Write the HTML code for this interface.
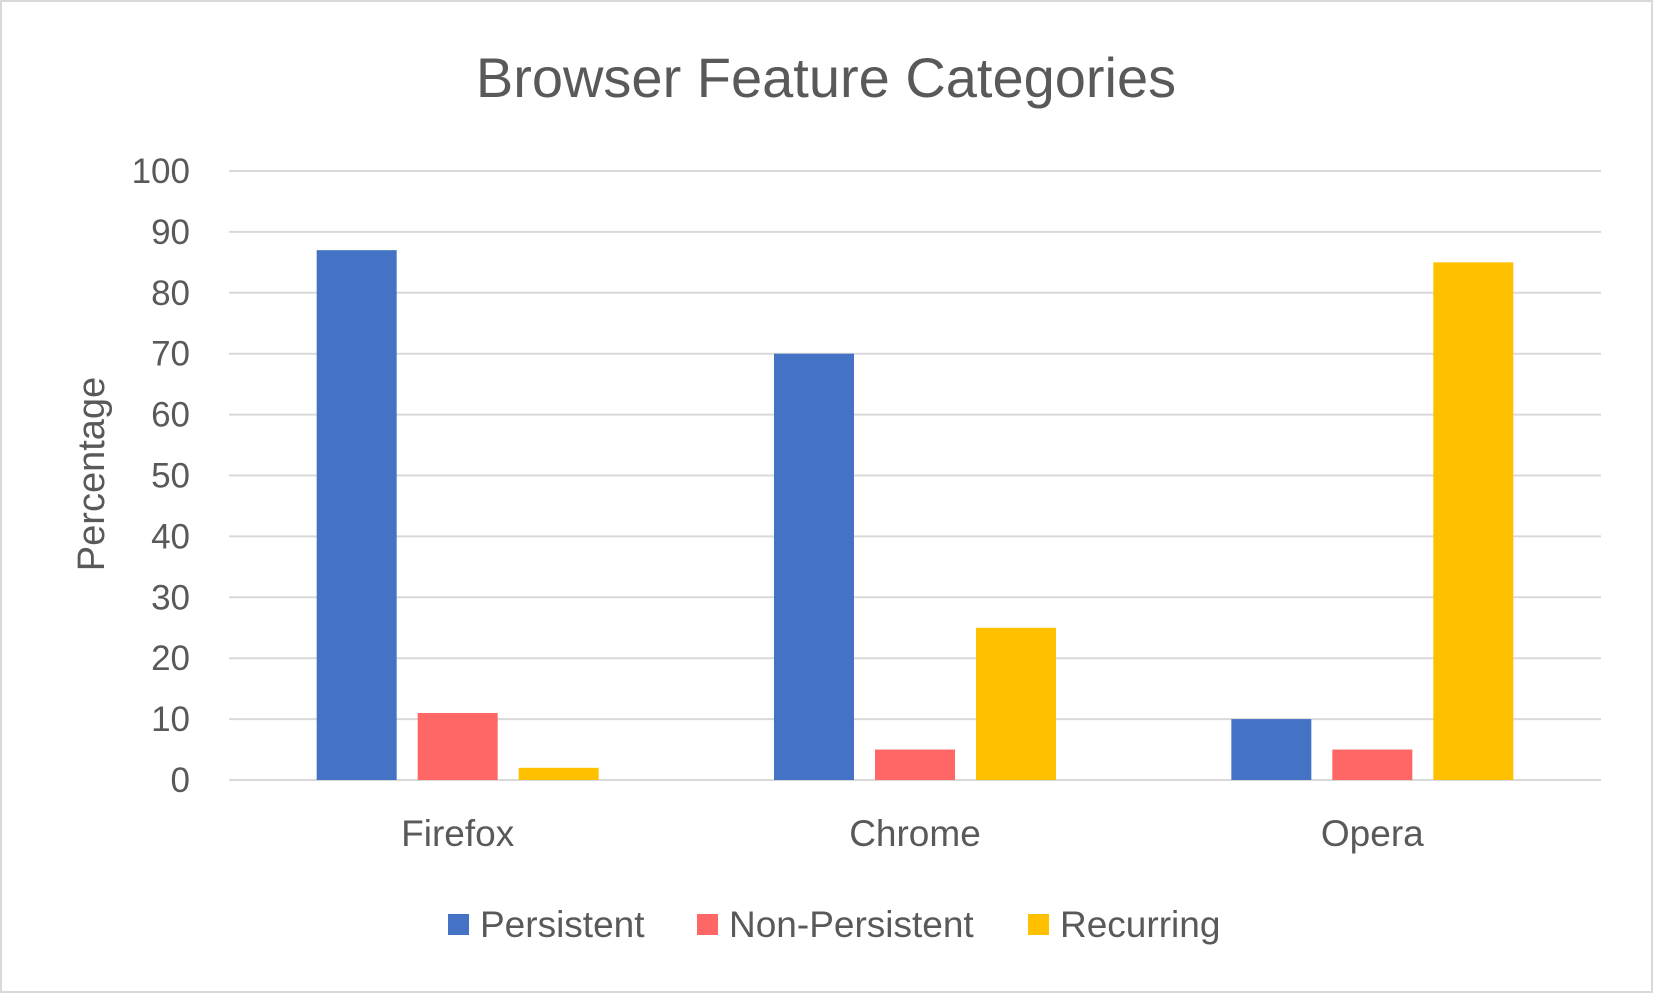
<!DOCTYPE html>
<html><head><meta charset="utf-8"><style>
body{margin:0;background:#fff}
svg text{font-family:"Liberation Sans",sans-serif;fill:#595959}
</style></head><body>
<svg width="1653" height="993">
<rect x="1" y="1" width="1651" height="991" fill="#fff" stroke="#d9d9d9" stroke-width="2"/>
<text x="826" y="97" font-size="56" text-anchor="middle">Browser Feature Categories</text>
<text transform="translate(104,474) rotate(-90)" font-size="38" text-anchor="middle">Percentage</text>
<g id="grid"></g><g id="bars"></g><g id="labels"></g><g id="legend"></g>
</svg>
<script>
const categories=["Firefox","Chrome","Opera"];
const seriesNames=["Persistent","Non-Persistent","Recurring"];
const persistent=[87,70,10];
const nonPersistent=[11,5,5];
const recurring=[2,25,85];
const yTicks=[0,10,20,30,40,50,60,70,80,90,100];
const colors=["#4472c4","#ff6666","#ffc000"];
const series=[persistent,nonPersistent,recurring];
const NS="http://www.w3.org/2000/svg";
const L=229,R=1601,Y0=780,Y100=171;
const y=v=>Y0-(v/100)*(Y0-Y100);
const cw=(R-L)/categories.length,bw=80,gap=21;
function mk(t,a,p){const e=document.createElementNS(NS,t);for(const k in a)e.setAttribute(k,a[k]);p.appendChild(e);return e;}
const g=document.getElementById('grid');
yTicks.forEach(v=>{
 const l=mk('line',{x1:L,x2:R,y1:y(v),y2:y(v),stroke:'#d9d9d9','stroke-width':2},g);
 
 
 const t=mk('text',{x:190,y:y(v)+12,'font-size':35,'text-anchor':'end'},g);
 t.textContent=v;
 
 
});
const b=document.getElementById('bars');
categories.forEach((c,i)=>{
 const cx=L+cw*(i+0.5);
 const total=3*bw+2*gap;
 series.forEach((s,j)=>{
  const x=cx-total/2+j*(bw+gap);
  const r=mk('rect',{x:x,y:y(s[i]),width:bw,height:Y0-y(s[i]),fill:colors[j]},b);
  
  
 });
 const t=mk('text',{x:cx,y:846,'font-size':37,'text-anchor':'middle'},document.getElementById('labels'));
 t.textContent=c;
 
 
});
const lg=document.getElementById('legend');
const lx=[448,697,1028];
seriesNames.forEach((n,j)=>{
 const r=mk('rect',{x:lx[j],y:914,width:21,height:21,fill:colors[j]},lg);
 
 
 const t=mk('text',{x:lx[j]+32,y:937,'font-size':37},lg);
 t.textContent=n;
 
 
});
</script>
</body></html>
